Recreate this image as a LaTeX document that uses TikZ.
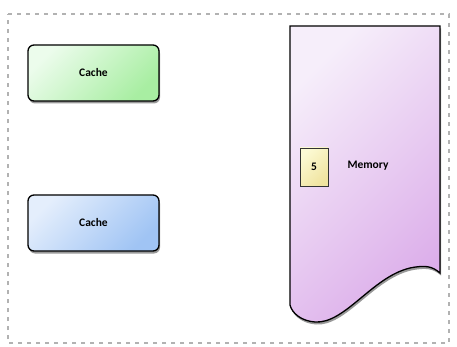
\documentclass[tikz,border=0pt]{standalone}
\usepackage{fontspec}
\setmainfont{Carlito}
\usetikzlibrary{shadows}
\definecolor{glight}{RGB}{236,252,236}
\definecolor{gdark}{RGB}{168,238,162}
\definecolor{blight}{RGB}{228,238,252}
\definecolor{bdark}{RGB}{160,196,244}
\definecolor{plight}{RGB}{246,238,250}
\definecolor{pdark}{RGB}{220,174,234}
\definecolor{ylight}{RGB}{252,250,212}
\definecolor{ydark}{RGB}{240,228,160}
\begin{document}
\begin{tikzpicture}[x=1pt,y=-1pt,
  lbl/.style={font=\fontsize{11.5}{13}\selectfont\bfseries,text=black},
  shadowed/.style={drop shadow={shadow xshift=1pt,shadow yshift=-2.5pt,opacity=0.4,fill=black}},
  cachebox/.style={draw=black,line width=1.3pt,rounded corners=6pt,minimum width=131pt,minimum height=56pt,shadowed,lbl},
  border/.style={draw=black!30,dash pattern=on 4pt off 5pt,line width=1.1pt}
]
\useasboundingbox (0,0) rectangle (457,347);
\fill[white] (0,0) rectangle (457,347);
\draw[border] (8,14) -- (449,14) -- (449,343) -- (8,343) -- cycle;

\node[cachebox,left color=glight,right color=gdark,shading angle=45] (c1) at (93.5,73) {Cache};
\node[cachebox,left color=blight,right color=bdark,shading angle=45] (c2) at (93.5,223) {Cache};

\path[draw=black,line width=1.3pt,shadowed,left color=plight,right color=pdark,shading angle=45]
  (290,26) -- (440,26) -- (440,273)
  .. controls (432,266) and (425,265) .. (410,268)
  .. controls (372,277) and (345,324) .. (315,322)
  .. controls (301,321) and (292,313) .. (290,305) -- cycle;

\node[draw=black!80,line width=0.8pt,minimum width=28pt,minimum height=38pt,inner sep=0pt,left color=ylight,right color=ydark,shading angle=45,lbl] (v) at (314,167) {5};
\node[lbl,anchor=west] (mem) at (344,166) {Memory};
\end{tikzpicture}
\end{document}
